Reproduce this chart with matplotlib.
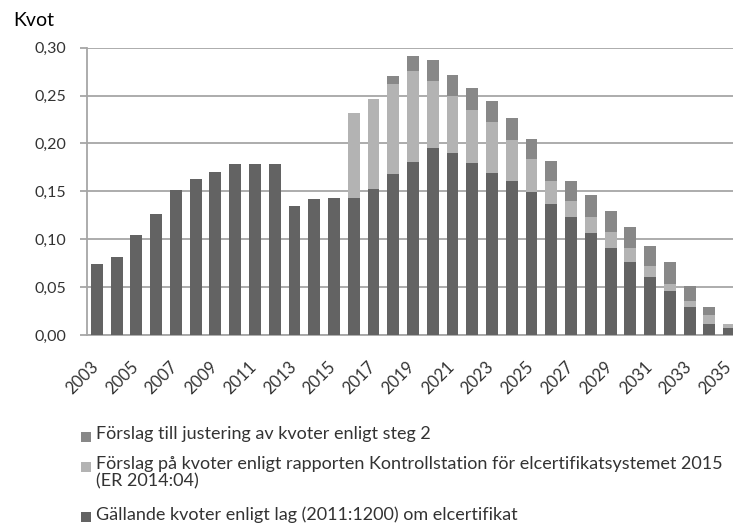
import numpy as np
import matplotlib
matplotlib.use("Agg")
import matplotlib.pyplot as plt
import matplotlib.transforms as mtransforms
from matplotlib.patches import Rectangle

plt.rcParams['font.family'] = ['Lato', 'DejaVu Sans']

years = list(range(2003, 2036))
# Gällande kvoter enligt lag (2011:1200) om elcertifikat
gallande = [0.074, 0.081, 0.104, 0.126, 0.151, 0.163, 0.170, 0.179, 0.179, 0.179,
            0.135, 0.142, 0.143, 0.143, 0.152, 0.168, 0.181, 0.195, 0.190, 0.180,
            0.169, 0.161, 0.149, 0.137, 0.123, 0.106, 0.091, 0.076, 0.061, 0.046,
            0.029, 0.012, 0.007]
# Förslag på kvoter enligt rapporten Kontrollstation ... (ER 2014:04) - added part
kontroll = [0, 0, 0, 0, 0, 0, 0, 0, 0, 0,
            0, 0, 0, 0.089, 0.094, 0.094, 0.095, 0.070, 0.060, 0.055,
            0.053, 0.043, 0.035, 0.024, 0.017, 0.017, 0.017, 0.015, 0.011, 0.007,
            0.007, 0.009, 0.005]
# Förslag till justering av kvoter enligt steg 2 - added part
steg2 = [0, 0, 0, 0, 0, 0, 0, 0, 0, 0,
         0, 0, 0, 0, 0, 0.008, 0.015, 0.022, 0.021, 0.023,
         0.022, 0.023, 0.021, 0.021, 0.021, 0.023, 0.021, 0.022, 0.021, 0.023,
         0.015, 0.008, 0]

labels = ["Förslag till justering av kvoter enligt steg 2",
          "Förslag på kvoter enligt rapporten Kontrollstation för elcertifikatsystemet 2015\n(ER 2014:04)",
          "Gällande kvoter enligt lag (2011:1200) om elcertifikat"]
C_DARK, C_LIGHT, C_MID = "#636363", "#b3b3b3", "#888888"
GRID = "#a6a6a6"
TXT = "#333333"

W, H = 733, 528
fig = plt.figure(figsize=(W/100, H/100), dpi=100)
ax = fig.add_axes([87/W, 1-335/H, (739-87)/W, (335-47.7)/H])

x = np.arange(len(years))
g = np.array(gallande); k = np.array(kontroll); s = np.array(steg2)
bw = 0.6
ax.bar(x, g, bw, color=C_DARK, edgecolor="none", zorder=3)
ax.bar(x, np.where(k > 0, k, np.nan), bw, bottom=g, color=C_LIGHT, edgecolor="none", zorder=3)
ax.bar(x, np.where(s > 0, s, np.nan), bw, bottom=g+k, color=C_MID, edgecolor="none", zorder=3)

ax.set_xlim(-0.5, len(years)-0.5)
ax.set_ylim(0, 0.30)
ax.set_yticks(np.arange(0, 0.301, 0.05))
ax.set_yticklabels([f"{v:.2f}".replace(".", ",") for v in np.arange(0, 0.301, 0.05)])
ax.grid(axis="y", color=GRID, lw=1.3, zorder=0)
ax.set_axisbelow(True)
for sp in ["top", "right"]:
    ax.spines[sp].set_visible(False)
for sp in ["left", "bottom"]:
    ax.spines[sp].set_color(GRID); ax.spines[sp].set_linewidth(1.3)
ax.tick_params(axis="y", length=5, color=GRID, width=1.3, pad=10, labelsize=11.5, labelcolor=TXT)

ax.set_xticks(x[::2])
ax.set_xticklabels([str(y) for y in years[::2]])
ax.tick_params(axis="x", length=0, pad=17, labelsize=12, labelcolor=TXT)
off = mtransforms.ScaledTranslation(5/100, 0, fig.dpi_scale_trans)
for lab in ax.get_xticklabels():
    lab.set_rotation(45); lab.set_ha("right"); lab.set_va("top")
    lab.set_transform(lab.get_transform() + off)

fig.text(13/W, 1-20/H, "Kvot", fontsize=14, va="center", ha="left", color="black")

# legend, drawn by hand: square marker + text per row
rows_y = [437, 467, 517]
cols = [C_MID, C_LIGHT, C_DARK]
for yy, col, lab in zip(rows_y, cols, labels):
    fig.patches.append(Rectangle((81/W, 1-(yy+5)/H), 10/W, 10/H, transform=fig.transFigure,
                                 facecolor=col, edgecolor="none"))
    fig.text(96/W, 1-(yy-11)/H, lab, fontsize=13, va="top", ha="left", color=TXT,
             linespacing=1.1)

fig.savefig("out.png", dpi=100, facecolor="white")
